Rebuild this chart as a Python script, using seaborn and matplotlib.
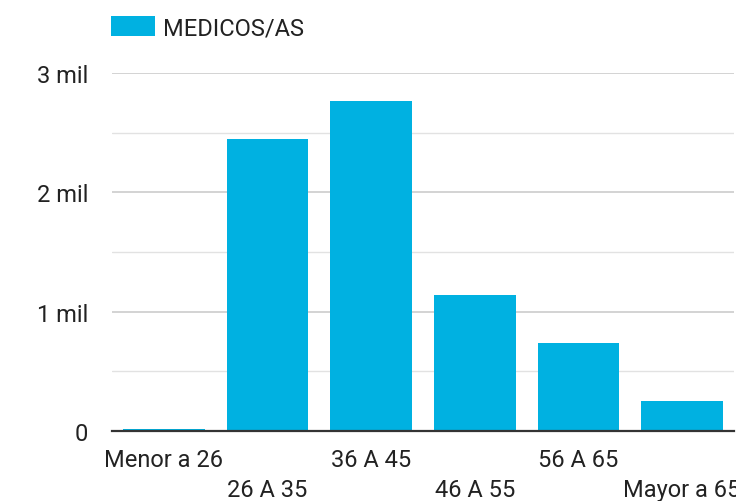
import matplotlib
matplotlib.use("Agg")
import matplotlib.pyplot as plt
import seaborn as sns
import pandas as pd

# datos
edades = ["Menor a 26", "26 A 35", "36 A 45", "46 A 55", "56 A 65", "Mayor a 65"]
medicos = [20, 2450, 2765, 1140, 740, 252]
yticks = [0, 1000, 2000, 3000]
ytick_labels = ["0", "1 mil", "2 mil", "3 mil"]
serie = "MEDICOS/AS"

sns.set_style("white")
plt.rcParams["font.family"] = ["Roboto", "DejaVu Sans"]
fs = 17

df = pd.DataFrame({"edad": edades, "n": medicos})

fig = plt.figure(figsize=(7.36, 5.02), dpi=100)
ax = fig.add_axes([112 / 736, 1 - 432 / 502, 622 / 736, (432 - 74) / 502])

sns.barplot(data=df, x="edad", y="n", color="#00B1E1", saturation=1,
            width=0.79, ax=ax, label=serie, zorder=3, linewidth=0)

ax.set_xlim(-0.5, 5.5)
ax.set_ylim(0, 3000)
ax.set_yticks(yticks, ytick_labels)
ax.set_yticks([500, 1500, 2500], minor=True)
ax.grid(axis="y", which="major", color="#cccccc", lw=1.2, zorder=0)
ax.grid(axis="y", which="minor", color="#e2e2e2", lw=1.0, zorder=0)

# etiquetas alternadas en dos filas
ax.set_xticks([0, 2, 4], [edades[i] for i in (0, 2, 4)])
ax.set_xticks([1, 3, 5], [edades[i] for i in (1, 3, 5)], minor=True)
ax.tick_params(axis="x", which="major", length=0, pad=12, labelsize=fs, labelcolor="#222222")
ax.tick_params(axis="x", which="minor", length=0, pad=34, labelsize=fs, labelcolor="#222222")
ax.tick_params(axis="y", which="both", length=0, pad=17, labelsize=fs, labelcolor="#222222")
ax.set_xlabel("")
ax.set_ylabel("")

for s in ["left", "right", "top"]:
    ax.spines[s].set_visible(False)
ax.spines["bottom"].set_color("#333333")
ax.spines["bottom"].set_linewidth(1.6)
ax.spines["bottom"].set_zorder(4)

ax.legend(loc="upper left", bbox_to_anchor=(111 / 736, 1 - 17 / 502),
          bbox_transform=fig.transFigure, frameon=False, borderpad=0,
          borderaxespad=0, handlelength=1.88, handleheight=0.95,
          handletextpad=0.34, fontsize=fs, labelcolor="#222222")

fig.savefig("out.png", dpi=100)
